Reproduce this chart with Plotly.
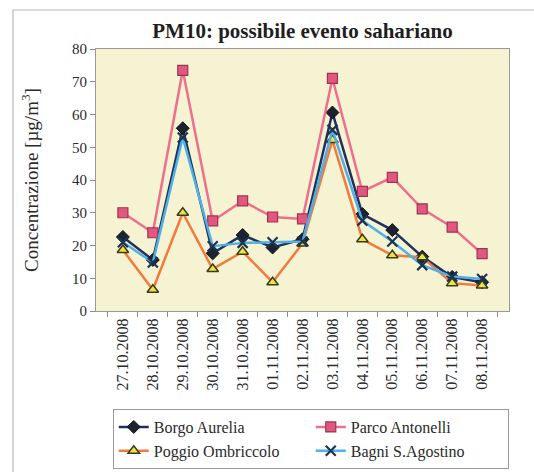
import plotly.graph_objects as go

# Daily PM10 concentrations (µg/m³) at four monitoring stations
dates = ["27.10.2008", "28.10.2008", "29.10.2008", "30.10.2008", "31.10.2008",
         "01.11.2008", "02.11.2008", "03.11.2008", "04.11.2008", "05.11.2008",
         "06.11.2008", "07.11.2008", "08.11.2008"]

borgo_aurelia = [22.6, 15.6, 55.8, 17.6, 23.2, 19.4, 21.9, 60.6, 29.6, 24.7, 16.6, 10.4, 8.8]
parco_antonelli = [30.0, 23.9, 73.5, 27.5, 33.6, 28.7, 28.1, 71.0, 36.5, 40.8, 31.2, 25.6, 17.5]
poggio_ombriccolo = [18.6, 6.5, 30.0, 12.8, 18.1, 8.8, 20.6, 52.2, 21.9, 17.0, 16.4, 8.5, 7.8]
bagni_s_agostino = [21.0, 14.8, 53.0, 19.8, 20.8, 21.0, 21.2, 55.3, 27.6, 21.2, 14.0, 10.5, 9.8]

serif = "Liberation Serif"

W, H = 534, 472
TOP, BOTTOM = 49, 161        # margins around the plot area (px)


def py(pixel_y):
    """Convert a pixel row to a paper y fraction."""
    return (H - BOTTOM - pixel_y) / (H - TOP - BOTTOM)


fig = go.Figure()

fig.add_trace(go.Scatter(
    x=dates, y=borgo_aurelia, name="Borgo Aurelia", mode="lines+markers",
    line=dict(color="#22305e", width=2.5),
    marker=dict(symbol="diamond", size=10, color="#1c2230",
                line=dict(color="#10141c", width=1)),
))
fig.add_trace(go.Scatter(
    x=dates, y=parco_antonelli, name="Parco Antonelli", mode="lines+markers",
    line=dict(color="#ee6f8c", width=2.5),
    marker=dict(symbol="square", size=10, color="#e2577f",
                line=dict(color="#9c3552", width=1.2)),
))
fig.add_trace(go.Scatter(
    x=dates, y=poggio_ombriccolo, name="Poggio Ombriccolo", mode="lines+markers",
    line=dict(color="#f27a3c", width=2.5),
    marker=dict(symbol="triangle-up", size=10, color="#ece24a",
                line=dict(color="#3a3a14", width=1.5)),
))
fig.add_trace(go.Scatter(
    x=dates, y=bagni_s_agostino, name="Bagni S.Agostino", mode="lines+markers",
    line=dict(color="#4fb0e6", width=2.5),
    marker=dict(symbol="x-thin-open", size=10, color="#1d3450",
                line=dict(color="#1d3450", width=2.2)),
))

# Outer frame around the whole chart
fig.add_shape(type="rect", xref="paper", yref="paper",
              x0=-0.201, x1=1.2, y0=py(490), y1=py(10),
              line=dict(color="#b8b8b8", width=1.2), layer="below")

fig.update_layout(
    width=W, height=H,
    margin=dict(l=96, r=25, t=TOP, b=BOTTOM),
    paper_bgcolor="white",
    plot_bgcolor="#f6f3d3",
    font=dict(family=serif, size=15, color="#2a2a2a"),
    title=dict(text="<b>PM10: possibile evento sahariano</b>",
               x=(96 + 509) / 2 / W, xanchor="center",
               y=1 - 31 / H, yanchor="middle",
               font=dict(family=serif, size=21, color="#1e1e1e")),
    showlegend=True,
    legend=dict(orientation="h", x=0.52, xanchor="center",
                yref="container", y=1 - 469 / H, yanchor="bottom",
                entrywidth=152, bgcolor="white",
                bordercolor="#9a9a9a", borderwidth=1,
                font=dict(family=serif, size=16, color="#2a2a2a")),
)

fig.update_xaxes(
    type="category", tickangle=-90, tickson="boundaries",
    ticks="outside", ticklen=5, tickcolor="#8a8a8a", automargin=False,
    showgrid=False, showline=True, linecolor="#9a9a9a", linewidth=1,
    mirror=True, tickfont=dict(family=serif, size=16, color="#2a2a2a"),
)
fig.update_yaxes(
    range=[0, 80], dtick=10, ticks="outside", ticklen=5, tickcolor="#8a8a8a",
    showgrid=False, showline=True, linecolor="#9a9a9a", linewidth=1,
    mirror=True, zeroline=False, automargin=False,
    tickfont=dict(family=serif, size=15, color="#2a2a2a"),
    title=dict(text="Concentrazione [µg/m<sup>3</sup>]", standoff=28,
               font=dict(family=serif, size=19, color="#2a2a2a")),
)

fig.write_html("out.html")
